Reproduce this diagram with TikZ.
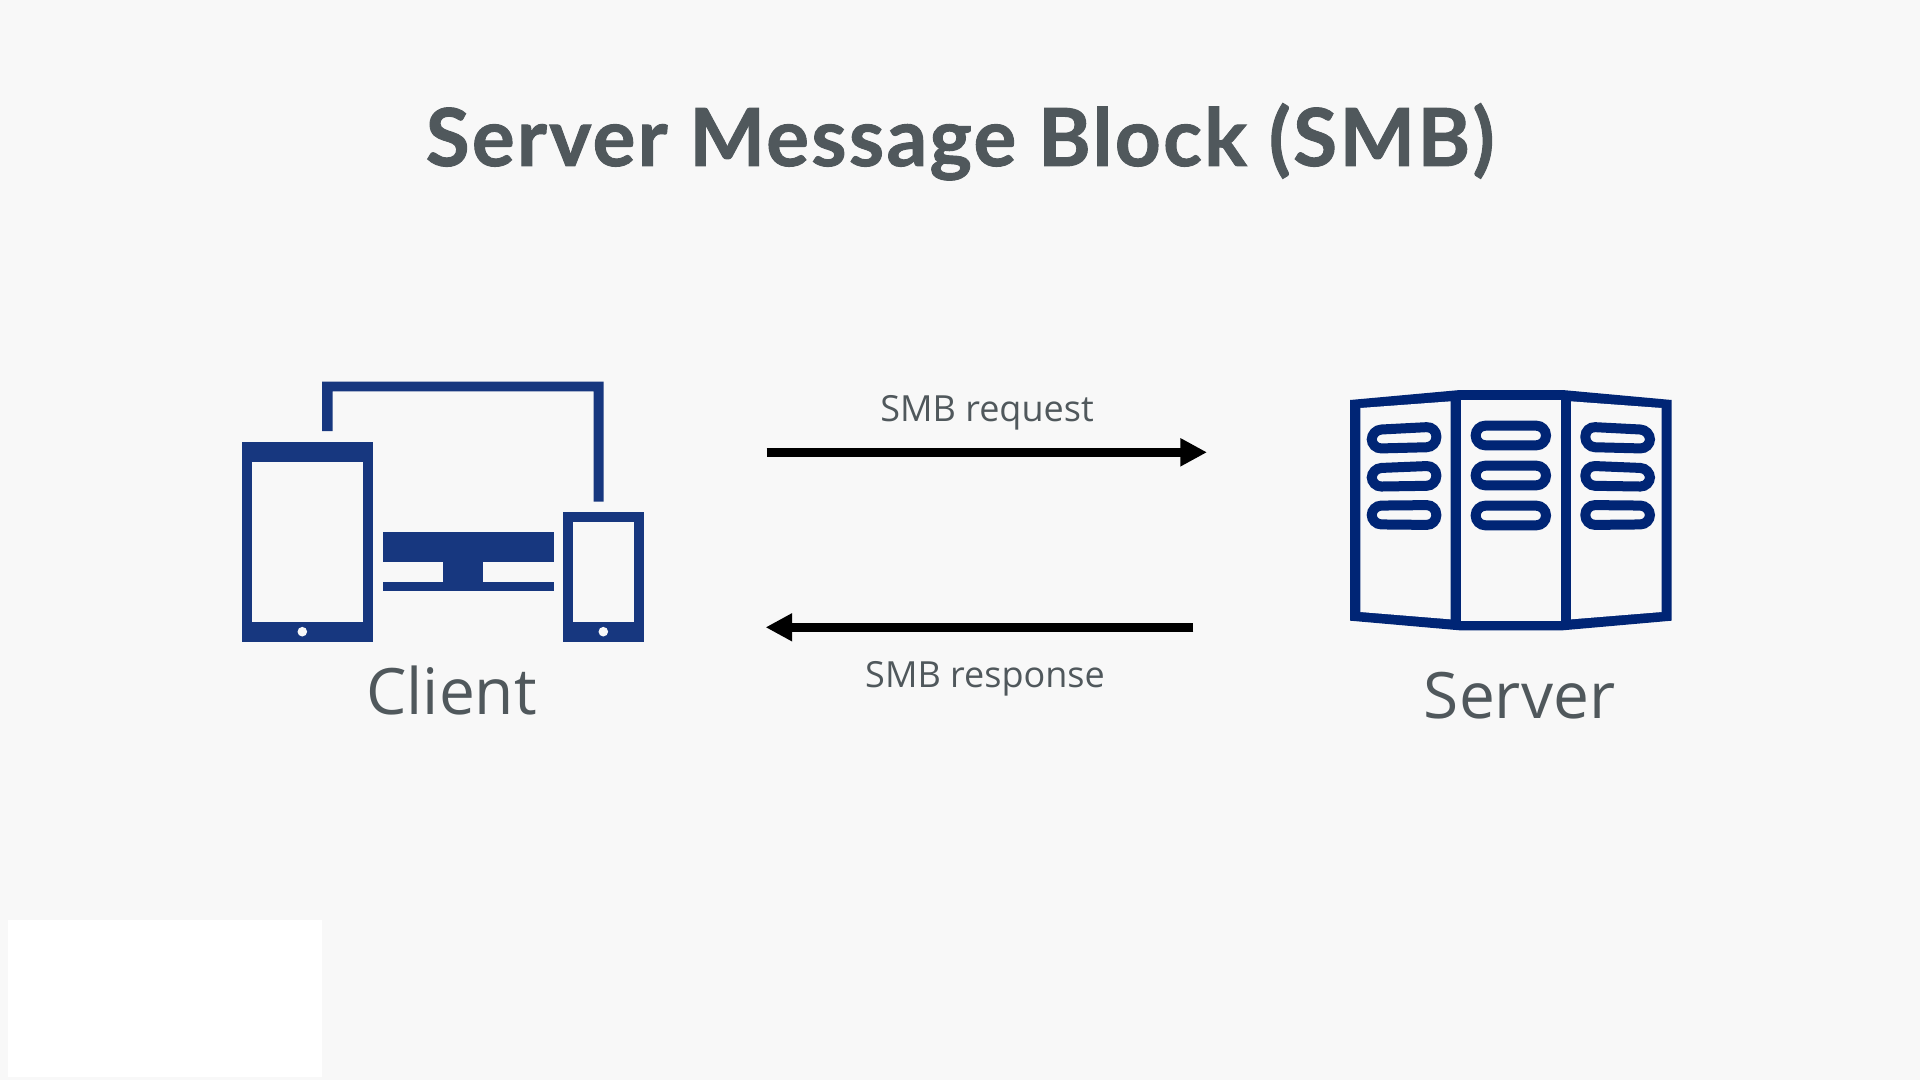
\documentclass[tikz,border=0pt]{standalone}
\usepackage{fontspec}
\setmainfont{Open Sans}
\newfontfamily\titlefont[LetterSpace=3,FakeBold=1.2]{Lato Bold}
\usetikzlibrary{arrows.meta}
\definecolor{bgc}{HTML}{F8F8F8}
\definecolor{clientblue}{HTML}{17377F}
\definecolor{serverblue}{HTML}{002575}
\definecolor{textc}{HTML}{50585C}
\tikzset{
  x=0.5pt,y=-0.5pt,
  flow/.style={line width=4.5pt,black,-{Triangle[length=13.3pt,width=13.2pt]}},
  devicefill/.style={fill=clientblue,draw=none},
  hole/.style={fill=bgc,draw=none},
  homedot/.style={circle,fill=bgc,draw=none,minimum size=4.8pt,inner sep=0pt},
  pill/.style={draw=serverblue,line width=5pt,rounded corners=4.9pt},
  lbl/.style={text=textc,font=\fontsize{18}{22}\selectfont,inner sep=0pt,anchor=base},
  biglbl/.style={text=textc,font=\fontsize{32}{40}\selectfont,inner sep=0pt,anchor=base},
}
\begin{document}
\begin{tikzpicture}
\useasboundingbox (0,0) rectangle (1920,1080);
\fill[bgc] (0,0) rectangle (1920,1080);
\fill[white] (8,920) rectangle (322,1077);
\node[text=textc,font={\titlefont\fontsize{40}{50}\selectfont},inner sep=0pt,anchor=base] (title) at (960,166) {Server Message Block (SMB)};
% client icon
\fill[devicefill] (322,431) -- (322,381.7) -- (603.7,381.7) -- (603.7,501.7) -- (593.7,501.7) -- (593.7,391.3) -- (332.7,391.3) -- (332.7,431) -- cycle;
\fill[devicefill] (242,441.8) rectangle (373,642);
\fill[hole] (252.3,461.8) rectangle (362.7,621.7);
\node[homedot] (tabletdot) at (302.3,631.7) {};
\fill[devicefill] (382.6,531.5) rectangle (553.7,561.7);
\fill[devicefill] (442.7,561.7) rectangle (483,581.7);
\fill[devicefill] (382.6,581.7) rectangle (553.7,591.3);
\fill[devicefill] (563,511.5) rectangle (643.7,642);
\fill[hole] (573.3,521.7) rectangle (634,621.7);
\node[homedot] (phonedot) at (603.3,631.7) {};
% server icon
\begin{scope}[xshift=665pt,yshift=-185pt,x=0.16667pt,y=-0.16667pt]
\fill[serverblue] (60,90) -- (390,60) -- (697,60) -- (1025,90) -- (1025,752) -- (697,781) -- (390,781) -- (60,752) -- cycle;
\fill[hole] (91,114) -- (362,94) -- (362,748) -- (91,726) -- cycle;
\fill[hole] (393,91) -- (694,91) -- (694,752) -- (393,752) -- cycle;
\fill[hole] (723,94) -- (995,114) -- (995,726) -- (723,748) -- cycle;
\foreach \yy in {0,120,240}{
  \draw[pill] (437,167+\yy) rectangle (648,226+\yy);
}
\draw[pill] (125,180) -- (319,170) -- (319,231) -- (125,236) -- cycle;
\draw[pill] (125,295) -- (319,287) -- (319,347) -- (125,350) -- cycle;
\draw[pill] (125,407) -- (319,405) -- (319,465) -- (125,463) -- cycle;
\draw[pill] (960,180) -- (766,170) -- (766,231) -- (960,236) -- cycle;
\draw[pill] (960,295) -- (766,287) -- (766,347) -- (960,350) -- cycle;
\draw[pill] (960,407) -- (766,405) -- (766,465) -- (960,463) -- cycle;
\end{scope}
% arrows
\coordinate (reqa) at (766.6,452.3);
\coordinate (reqb) at (1207,452.3);
\coordinate (resa) at (1193.3,627.3);
\coordinate (resb) at (765.6,627.3);
\draw[flow] (reqa) -- (reqb);
\draw[flow] (resa) -- (resb);
\node[lbl] (reqlabel) at (987,421) {SMB request};
\node[lbl] (reslabel) at (985,687) {SMB response};
\node[biglbl] (client) at (451.5,714) {Client};
\node[biglbl] (server) at (1519.5,718) {Server};
\end{tikzpicture}
\end{document}
